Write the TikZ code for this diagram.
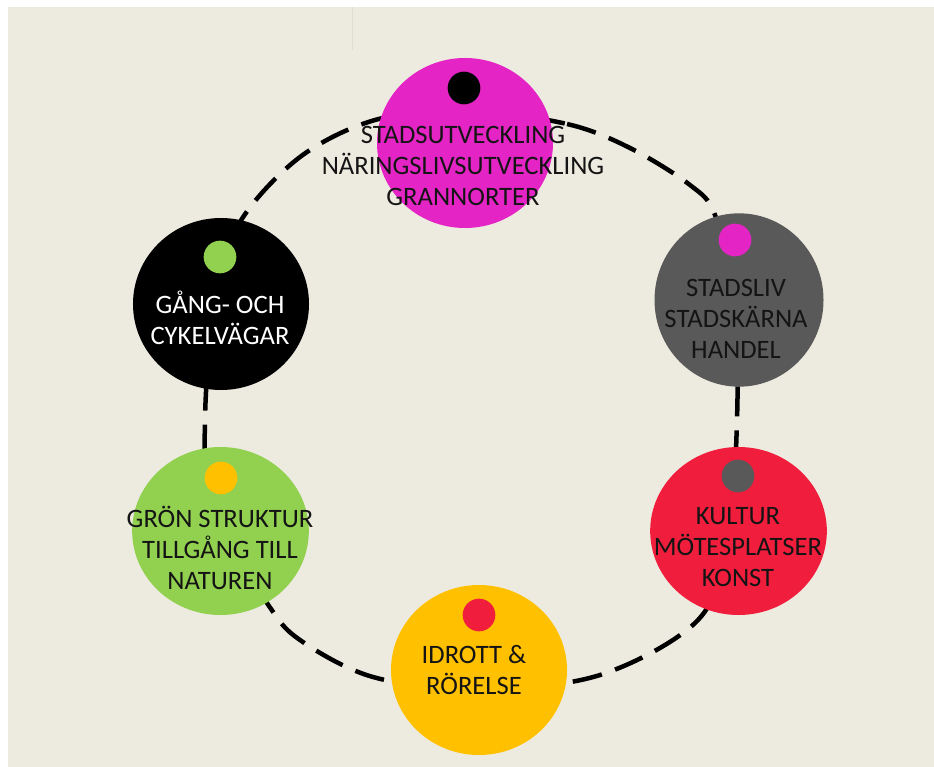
\documentclass[tikz,border=0pt]{standalone}
\usepackage{fontspec}
\setmainfont{Carlito}
\usetikzlibrary{shapes.geometric}
\definecolor{bg}{HTML}{EDEBE0}
\definecolor{cmag}{HTML}{E524C6}
\definecolor{cgray}{HTML}{595959}
\definecolor{cgreen}{HTML}{92D050}
\definecolor{corange}{HTML}{FFC000}
\definecolor{cred}{HTML}{F01E3C}
\definecolor{txt}{HTML}{141414}
\definecolor{faint}{HTML}{E0DED4}
\begin{document}
\begin{tikzpicture}[x=0.03cm,y=-0.03cm,
  bubble/.style={ellipse, inner sep=0pt, draw=none},
  dot/.style={circle, inner sep=0pt, minimum size=0.98cm, draw=none},
  lbl/.style={align=center, font=\fontsize{22.7}{26.4}\selectfont, text=txt, inner sep=0pt},
  ringline/.style={line width=0.135cm, dash pattern=on 0.9cm off 0.42cm}]
\useasboundingbox (0,0) rectangle (934,767);
\fill[white] (0,0) rectangle (934,767);
\fill[bg] (8,7) rectangle (934,767);
\draw[faint, line width=0.03cm] (352,7) -- (352,50);
% dashed ring
\draw[ringline] plot[smooth cycle, tension=0.55] coordinates {
  (465,110) (567,124) (630,148) (690,185) (715,215) (735,300) (737,420)
  (728,540) (698,620) (600,675) (479,690) (373,677) (300,640) (267,603)
  (212,510) (205,420) (215,300) (240,222) (300,157) (375,120)};
% bubbles
\node[bubble, fill=cmag, minimum width=5.28cm, minimum height=5.1cm] (mag) at (465,143) {};
\node[bubble, fill=cgray, minimum width=5.07cm, minimum height=5.2cm] (gry) at (739,300) {};
\node[bubble, fill=black, minimum width=5.28cm, minimum height=5.16cm] (blk) at (221,304) {};
\node[bubble, fill=cgreen, minimum width=5.3cm, minimum height=5.04cm] (grn) at (220.5,531) {};
\node[bubble, fill=corange, minimum width=5.28cm, minimum height=5.1cm] (org) at (479,670) {};
\node[bubble, fill=cred, minimum width=5.3cm, minimum height=5.04cm] (red) at (738.5,531) {};
% dots
\node[dot, fill=black] (magdot) at (464,88) {};
\node[dot, fill=cmag] (grydot) at (735,240) {};
\node[dot, fill=cgreen] (blkdot) at (220,257) {};
\node[dot, fill=corange] (grndot) at (221,478) {};
\node[dot, fill=cred] (orgdot) at (479,615) {};
\node[dot, fill=cgray] (reddot) at (738,476) {};
% labels
\node[lbl] (magl) at (463,166) {STADSUTVECKLING\\NÄRINGSLIVSUTVECKLING\\GRANNORTER};
\node[lbl] (gryl) at (736,319) {STADSLIV\\STADSKÄRNA\\HANDEL};
\node[lbl, text=white] (blkl) at (220,318) {GÅNG- OCH\\CYKELVÄGAR};
\node[lbl] (grnl) at (220,548) {GRÖN STRUKTUR\\TILLGÅNG TILL\\NATUREN};
\node[lbl] (orgl) at (474,670) {IDROTT \&\\RÖRELSE};
\node[lbl] (redl) at (738,547) {KULTUR\\MÖTESPLATSER\\KONST};
\end{tikzpicture}
\end{document}
